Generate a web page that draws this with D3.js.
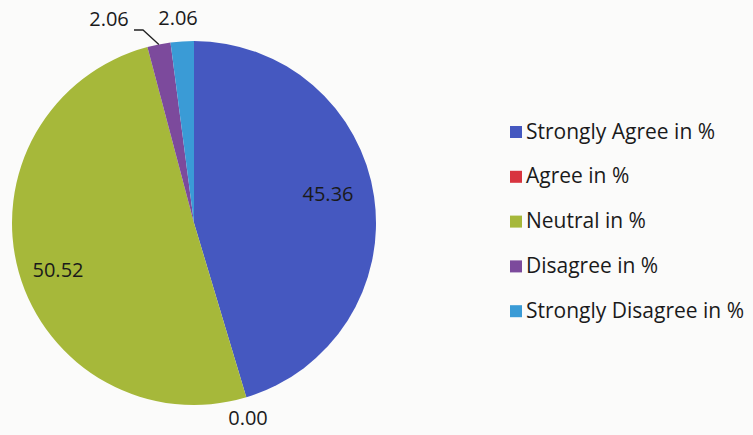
<!DOCTYPE html>
<html>
<head>
<meta charset="utf-8">
<script src="https://cdn.jsdelivr.net/npm/d3@7"></script>
<style>
  html, body { margin: 0; padding: 0; background: #fbfbfa; }
  svg { display: block; }
  text { font-family: "Open Sans", "Lato", sans-serif; fill: #1a1a1a; }
</style>
</head>
<body>
<svg id="chart" width="753" height="435"></svg>
<script>
// Survey responses (percent)
const categories = ["Strongly Agree in %", "Agree in %", "Neutral in %", "Disagree in %", "Strongly Disagree in %"];
const values = [45.36, 0.00, 50.52, 2.06, 2.06];
const colors = ["#4558c0", "#d8343f", "#a6b83a", "#7c4a9c", "#3a9bd6"];

const svg = d3.select("#chart");
const cx = 194, cy = 223, r = 182;

const pie = d3.pie().value(d => d).sort(null);
const arc = d3.arc().innerRadius(0).outerRadius(r);
const arcs = pie(values);

const g = svg.append("g").attr("transform", `translate(${cx},${cy})`);

g.selectAll("path.slice")
  .data(arcs)
  .join("path")
  .attr("class", "slice")
  .attr("d", arc)
  .attr("fill", (d, i) => colors[i]);

// Data labels: offsets relative to the pie centre
const fmt = d3.format(".2f");
const outerPt = (a, rad) => [Math.sin(a) * rad, -Math.cos(a) * rad];
const labelPos = [
  { x: 134, y: -27 },
  { x: 54, y: 197 },
  { x: -136, y: 49 },
  { x: -85, y: -202, leader: true },
  { x: -16, y: -203 }
];

arcs.forEach((d, i) => {
  const mid = (d.startAngle + d.endAngle) / 2;
  const p = labelPos[i];
  g.append("text")
    .attr("x", p.x)
    .attr("y", p.y)
    .attr("text-anchor", "middle")
    .attr("dominant-baseline", "middle")
    .attr("font-size", 20)
    .text(fmt(values[i]));
  if (p.leader) {
    const edge = outerPt(mid, r);
    g.append("path")
      .attr("d", `M${p.x + 25},${p.y + 9} L${p.x + 34},${p.y + 9} L${edge[0]},${edge[1]}`)
      .attr("fill", "none")
      .attr("stroke", "#222")
      .attr("stroke-width", 1.3);
  }
});

// Legend
const legend = svg.append("g").attr("transform", "translate(510,132)");
const rows = legend.selectAll("g")
  .data(categories)
  .join("g")
  .attr("transform", (d, i) => `translate(0,${i * 44.8})`);
rows.append("rect")
  .attr("x", 0).attr("y", -6)
  .attr("width", 12).attr("height", 12)
  .attr("fill", (d, i) => colors[i]);
rows.append("text")
  .attr("x", 16)
  .attr("y", 1)
  .attr("dominant-baseline", "middle")
  .attr("font-size", 21)
  .text(d => d);
</script>
</body>
</html>
